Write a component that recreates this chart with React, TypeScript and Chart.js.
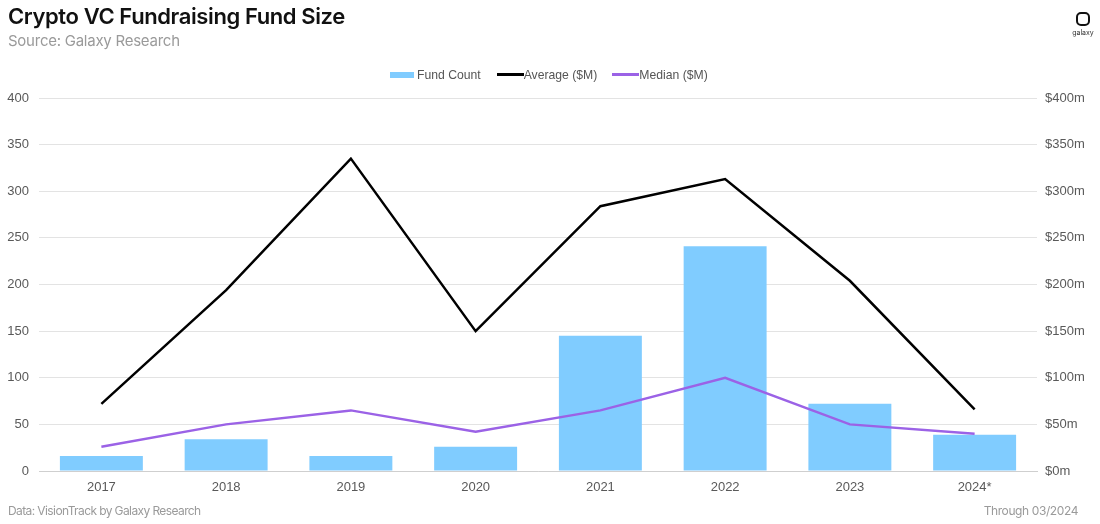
import React, { useEffect, useRef } from "react";
import { Chart, registerables } from "chart.js";

Chart.register(...registerables);

const categories = ["2017", "2018", "2019", "2020", "2021", "2022", "2023", "2024*"];
const fundCount = [16, 34, 16, 26, 145, 241, 72, 39];
const averageM = [72, 194, 335, 150, 284, 313, 204, 66];
const medianM = [26, 50, 65, 42, 65, 100, 50, 40];
const leftTicks = [0, 50, 100, 150, 200, 250, 300, 350, 400];
const rightTicks = ["$0m", "$50m", "$100m", "$150m", "$200m", "$250m", "$300m", "$350m", "$400m"];

const BAR = "#80CCFF";
const AVG = "#000000";
const MED = "#9B62E6";
const AXIS_FONT = { family: "'Liberation Sans', Arial, sans-serif", size: 13 };

export default function App() {
  const ref = useRef<HTMLCanvasElement | null>(null);

  useEffect(() => {
    document.body.style.margin = "0";
    const ctx = ref.current!;
    const chart = new Chart(ctx, {
      type: "bar",
      data: {
        labels: categories,
        datasets: [
          {
            type: "line",
            label: "Average ($M)",
            data: averageM,
            borderColor: AVG,
            backgroundColor: AVG,
            borderWidth: 2.5,
            pointRadius: 0,
            yAxisID: "y1",
            order: 1,
          },
          {
            type: "line",
            label: "Median ($M)",
            data: medianM,
            borderColor: MED,
            backgroundColor: MED,
            borderWidth: 2.5,
            pointRadius: 0,
            yAxisID: "y1",
            order: 0,
          },
          {
            type: "bar",
            label: "Fund Count",
            data: fundCount,
            backgroundColor: BAR,
            borderWidth: 0,
            categoryPercentage: 1,
            barPercentage: 0.665,
            yAxisID: "y",
            order: 2,
          },
        ],
      },
      options: {
        animation: false,
        responsive: false,
        maintainAspectRatio: false,
        layout: { padding: { top: 98, bottom: 0, left: 0, right: 0 } },
        plugins: {
          legend: { display: false },
          tooltip: { enabled: false },
        },
        scales: {
          x: {
            grid: { display: false, drawTicks: false },
            border: { display: true, color: "#cfcfcf", width: 1 },
            ticks: { color: "#595959", font: AXIS_FONT, padding: 9, maxRotation: 0 },
            afterFit: (s: any) => {
              s.height = 53;
            },
          },
          y: {
            position: "left",
            min: 0,
            max: 400,
            afterBuildTicks: (s: any) => {
              s.ticks = leftTicks.map((v) => ({ value: v }));
            },
            grid: { color: "#e3e3e3", drawTicks: false, lineWidth: 1 },
            border: { display: false },
            ticks: { color: "#595959", font: AXIS_FONT, padding: 10 },
            afterFit: (s: any) => {
              s.width = 39;
            },
          },
          y1: {
            position: "right",
            min: 0,
            max: 400,
            afterBuildTicks: (s: any) => {
              s.ticks = leftTicks.map((v) => ({ value: v }));
            },
            grid: { display: false, drawTicks: false },
            border: { display: false },
            ticks: {
              color: "#595959",
              font: AXIS_FONT,
              padding: 8,
              callback: (_v: any, i: number) => rightTicks[i],
            },
            afterFit: (s: any) => {
              s.width = 63;
            },
          },
        },
      },
    });
    return () => chart.destroy();
  }, []);

  const legendText: React.CSSProperties = {
    fontFamily: "'Liberation Sans', Arial, sans-serif",
    fontSize: 12.2,
    color: "#555",
  };

  return (
    <div style={{ position: "relative", width: 1100, height: 524, background: "#fff", overflow: "hidden" }}>
      <canvas ref={ref} width={1100} height={524} style={{ position: "absolute", left: 0, top: 0 }} />
      <div
        style={{
          position: "absolute",
          left: 8,
          top: 3,
          fontFamily: "Inter, 'Noto Sans', sans-serif",
          fontWeight: 600,
          fontSize: 22,
          letterSpacing: -0.4,
          color: "#111",
        }}
      >
        Crypto VC Fundraising Fund Size
      </div>
      <div
        style={{
          position: "absolute",
          left: 8,
          top: 31,
          fontFamily: "Inter, 'Noto Sans', sans-serif",
          fontSize: 15,
          letterSpacing: -0.25,
          color: "#9a9a9a",
        }}
      >
        Source: Galaxy Research
      </div>
      <div style={{ position: "absolute", left: 1072, top: 12, width: 22, height: 24, textAlign: "center" }}>
        <div
          style={{
            width: 14,
            height: 14,
            margin: "0 auto",
            border: "2.5px solid #111",
            borderRadius: 5,
            boxSizing: "border-box",
          }}
        />
        <div style={{ fontFamily: "Inter, sans-serif", fontSize: 7, color: "#333", marginTop: 2 }}>galaxy</div>
      </div>
      <div style={{ position: "absolute", left: 390, top: 66, display: "flex", alignItems: "center", height: 17 }}>
        <span style={{ display: "inline-block", width: 24, height: 6, background: BAR, marginRight: 3 }} />
        <span style={legendText}>Fund Count</span>
        <span style={{ display: "inline-block", width: 27, height: 3, background: AVG, marginLeft: 16 }} />
        <span style={legendText}>Average ($M)</span>
        <span style={{ display: "inline-block", width: 27, height: 3, background: MED, marginLeft: 15 }} />
        <span style={legendText}>Median ($M)</span>
      </div>
      <div
        style={{
          position: "absolute",
          left: 8,
          top: 503,
          fontFamily: "Inter, 'Noto Sans', sans-serif",
          fontSize: 12,
          letterSpacing: -0.6,
          color: "#9a9a9a",
        }}
      >
        Data: VisionTrack by Galaxy Research
      </div>
      <div
        style={{
          position: "absolute",
          right: 22,
          top: 503,
          fontFamily: "Inter, 'Noto Sans', sans-serif",
          fontSize: 12,
          letterSpacing: -0.4,
          color: "#9a9a9a",
        }}
      >
        Through 03/2024
      </div>
    </div>
  );
}
